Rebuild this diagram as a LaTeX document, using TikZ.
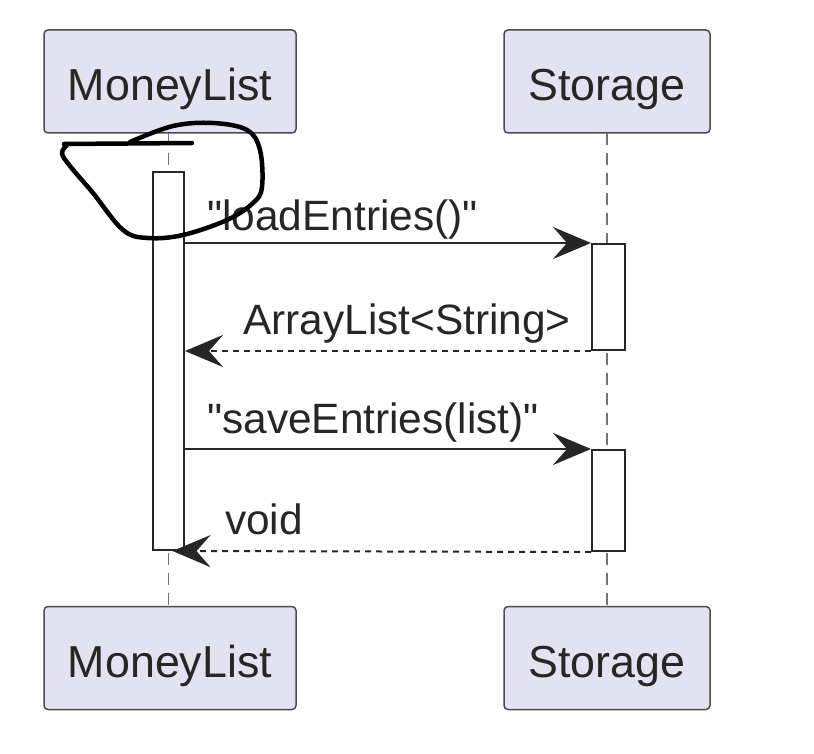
\documentclass[tikz,border=0pt]{standalone}
\usepackage{fontspec}
\setmainfont{Liberation Sans}[Ligatures=TeXOff]
\usetikzlibrary{arrows.meta}
\begin{document}
\begin{tikzpicture}[x=1pt,y=-1pt,
  part/.style={draw=black!70, line width=1.5pt, fill=partfill, rounded corners=4pt,
    minimum height=103pt, inner sep=0pt, text=black!85, text height=38pt, text depth=0pt,
    font=\fontsize{44.8}{50}\selectfont},
  life/.style={draw=black!55, line width=1.5pt, dash pattern=on 12pt off 8pt},
  actbar/.style={draw=black!85, line width=2pt, fill=white, inner sep=0pt},
  msg/.style={draw=black!85, line width=2pt, -{Stealth[length=38pt,width=32pt,inset=14pt]}},
  ret/.style={msg, dash pattern=on 6pt off 5pt},
  lbl/.style={anchor=base west, inner sep=0pt, text=black!85, font=\fontsize{42.4}{47}\selectfont},
  scrib/.style={draw=black, line width=4.5pt, line cap=round, line join=round}
]
\definecolor{partfill}{HTML}{E2E2F0}
\useasboundingbox (0,0) rectangle (814,754);
\fill[white] (0,0) rectangle (814,754);
% participants
\node[part, minimum width=252pt] (mlTop) at (170,81.5) {MoneyList};
\node[part, minimum width=206pt] (stTop) at (607,81.5) {Storage};
\node[part, minimum width=252pt] (mlBot) at (170,658) {MoneyList};
\node[part, minimum width=206pt] (stBot) at (607,658) {Storage};
% lifelines
\coordinate (mlT) at (168.5,133);
\coordinate (mlB) at (168.5,606);
\coordinate (stT) at (607,133);
\coordinate (stB) at (607,606);
\draw[life] (mlT) -- (mlB);
\draw[life] (stT) -- (stB);
% activation bars
\node[actbar, minimum width=31pt, minimum height=378pt] (actA) at (168.5,361) {};
\node[actbar, minimum width=33pt, minimum height=106pt] (s1) at (608.5,297) {};
\node[actbar, minimum width=33pt, minimum height=101pt] (s2) at (608.5,500.5) {};
% messages
\draw[msg] (actA.east |- s1.north west) -- (s1.north west);
\draw[ret] (s1.south west) -- (actA.east |- s1.south west);
\draw[msg] (actA.east |- s2.north west) -- (s2.north west);
\coordinate (retEnd) at ([xshift=4pt]actA.south);
\draw[ret] (s2.south west) -- (retEnd);
% labels
\node[lbl] (l1) at (207,231) {"loadEntries()"};
\node[lbl] (l2) at (243,334) {ArrayList<String>};
\node[lbl] (l3) at (207,433) {"saveEntries(list)"};
\node[lbl] (l4) at (225,534) {void};
% hand-drawn scribble
\draw[scrib] (64,144) -- (192,143);
\draw[scrib] plot[smooth, tension=0.6] coordinates {(130,142) (173,126) (213,123) (247,130) (260,150) (262,187) (253,203) (227,220) (183,235) (148,238) (123,230) (93,193) (70,166) (62,153) (68,144)};
\end{tikzpicture}
\end{document}
